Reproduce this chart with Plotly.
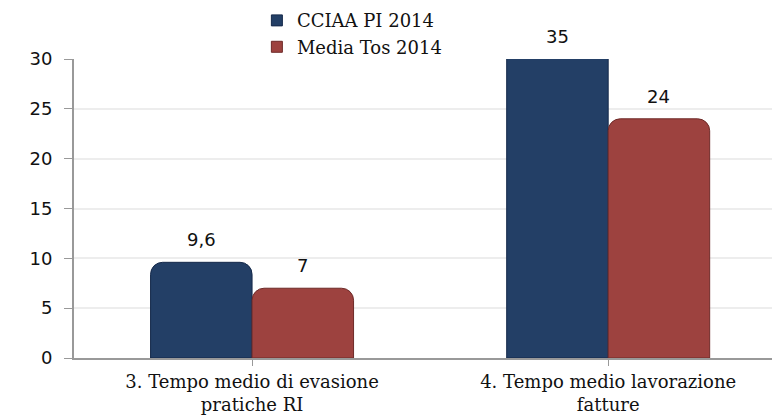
import plotly.graph_objects as go

categories = ["3. Tempo medio di evasione<br>pratiche RI", "4. Tempo medio lavorazione<br>fatture"]
series_names = ["CCIAA PI 2014", "Media Tos 2014"]
cciaa_pi = [9.6, 35]
media_tos = [7, 24]
value_labels = [["9,6", "35"], ["7", "24"]]
y_ticks = [0, 5, 10, 15, 20, 25, 30]
y_max = 30

colors = ["#233F66", "#9D423F"]
edges = ["#15294A", "#6E2A28"]

fig = go.Figure()
for i, (name, vals) in enumerate(zip(series_names, [cciaa_pi, media_tos])):
    fig.add_trace(go.Bar(
        x=list(range(len(categories))), y=vals, name=name,
        marker=dict(color=colors[i], line=dict(color=edges[i], width=1)),
        offsetgroup=str(i), showlegend=False,
    ))

# square legend keys
for i, name in enumerate(series_names):
    fig.add_trace(go.Scatter(
        x=[None], y=[None], mode="markers", name=name,
        marker=dict(symbol="square", size=11, color=colors[i],
                    line=dict(color=edges[i], width=1)),
    ))

# value labels sit above each bar, capped at the top of the axis
bar_w = (1 - 0.43) / 2
for i, vals in enumerate([cciaa_pi, media_tos]):
    for j, v in enumerate(vals):
        xpos = j + (i - 0.5) * bar_w
        fig.add_annotation(x=xpos, y=min(v, y_max), text=value_labels[i][j],
                           showarrow=False, yanchor="bottom", yshift=10,
                           font=dict(family="DejaVu Sans", size=18, color="#111"))

fig.update_layout(
    width=772, height=415,
    margin=dict(l=74, r=0, t=59, b=54),
    paper_bgcolor="white", plot_bgcolor="white",
    barmode="group", bargap=0.43, bargroupgap=0,
    barcornerradius=12,
    showlegend=True,
    legend=dict(x=0.262, y=1.19, xanchor="left", yanchor="top",
                font=dict(family="DejaVu Serif", size=18, color="#111"),
                itemwidth=30, tracegroupgap=0, bgcolor="rgba(0,0,0,0)"),
    font=dict(family="DejaVu Serif", color="#111"),
)
fig.update_yaxes(range=[0, y_max], tickvals=y_ticks, ticks="outside", ticklen=8,
                 tickcolor="#999", showline=True, linecolor="#999", linewidth=2,
                 gridcolor="#EDEDED", gridwidth=1.5, zeroline=False,
                 tickfont=dict(family="DejaVu Sans", size=18, color="#111"),
                 ticklabelstandoff=8)
fig.update_xaxes(range=[-0.5, 1.46], tickvals=[0, 1], ticktext=categories,
                 tickson="boundaries", ticks="outside", ticklen=6, tickcolor="#999",
                 showline=True, linecolor="#999", linewidth=2, showgrid=False,
                 tickfont=dict(family="DejaVu Serif", size=18, color="#111"))

fig.write_html("out.html")
